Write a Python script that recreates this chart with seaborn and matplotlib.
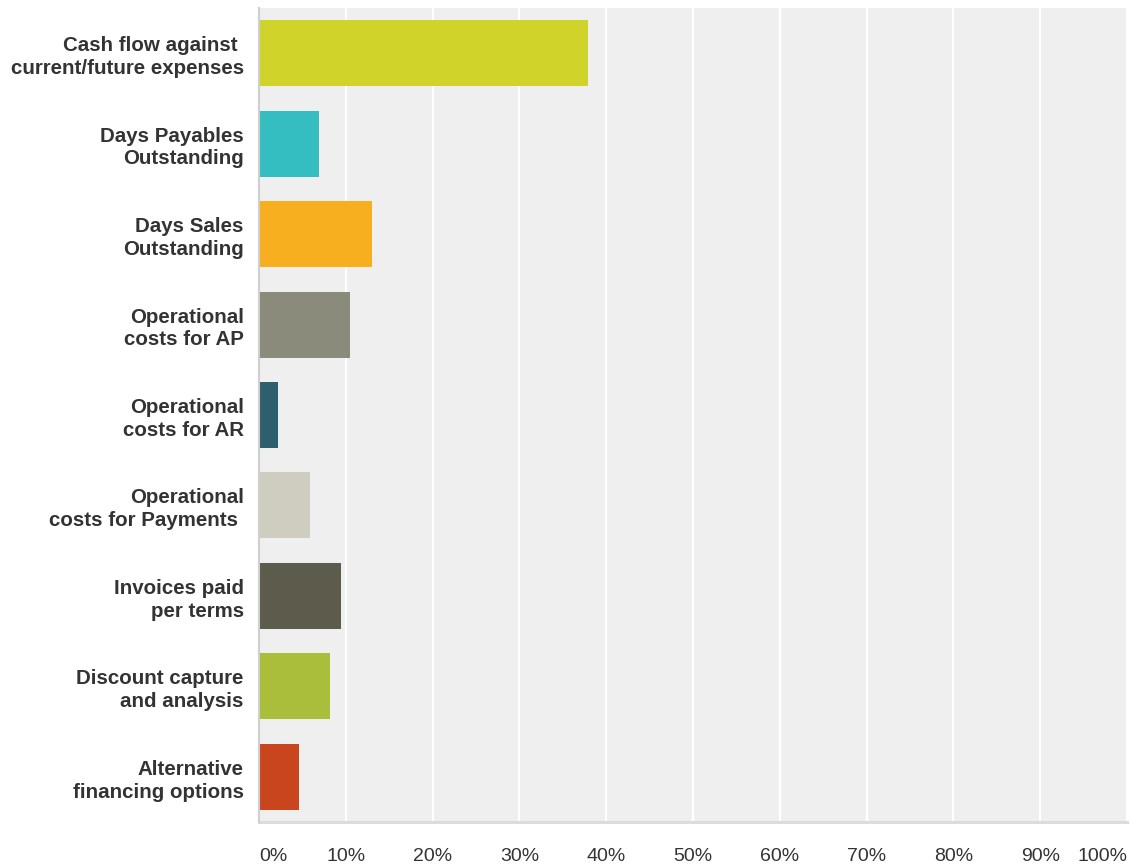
import matplotlib
matplotlib.use("Agg")
import matplotlib.pyplot as plt
import seaborn as sns
import pandas as pd

# Survey responses: share of respondents per metric
categories = [
    "Cash flow against \ncurrent/future expenses",
    "Days Payables\nOutstanding",
    "Days Sales\nOutstanding",
    "Operational\ncosts for AP",
    "Operational\ncosts for AR",
    "Operational\ncosts for Payments ",
    "Invoices paid\nper terms",
    "Discount capture\nand analysis",
    "Alternative\nfinancing options",
]
values = [37.9, 6.9, 13.0, 10.5, 2.2, 5.9, 9.5, 8.2, 4.6]
colors = ["#d0d42a", "#35bec1", "#f7ae1f", "#8a8b7a", "#2d5f6c",
          "#cfcdbf", "#5c5b4c", "#abbe3b", "#c9451e"]
tick_values = [0, 10, 20, 30, 40, 50, 60, 70, 80, 90, 100]
tick_labels = ["0%", "10%", "20%", "30%", "40%", "50%", "60%", "70%", "80%", "90%", "100%"]

df = pd.DataFrame({"category": categories, "value": values})

sns.set_theme(style="white")
plt.rcParams["font.family"] = ["Liberation Sans", "DejaVu Sans"]

fig = plt.figure(figsize=(11.32, 8.67), dpi=100)
ax = fig.add_axes([0.2288, 0.0519, 0.7668, 0.9389])
ax.set_facecolor("#efefef")

sns.barplot(data=df, x="value", y="category", hue="category",
            palette=colors, orient="h", width=0.73, legend=False,
            saturation=1, linewidth=0, ax=ax, zorder=3)

ax.set_xlim(0, 100)
ax.set_ylim(8.5, -0.5)
ax.set_xticks(tick_values)
ax.set_xticklabels(tick_labels, fontsize=14, color="#333333")
for lbl in ax.get_xticklabels()[:1]:
    lbl.set_ha("left")
for lbl in ax.get_xticklabels()[-1:]:
    lbl.set_ha("right")
ax.tick_params(axis="x", length=0, pad=19)
ax.tick_params(axis="y", length=0, pad=11)
for lbl in ax.get_yticklabels():
    lbl.set_fontsize(14.8)
    lbl.set_fontweight("bold")
    lbl.set_color("#333333")
    lbl.set_linespacing(1.25)

ax.set_xlabel("")
ax.set_ylabel("")
ax.grid(axis="x", color="white", linewidth=1.6, zorder=1)
ax.grid(axis="y", visible=False)
ax.set_axisbelow(True)

for side in ["top", "right"]:
    ax.spines[side].set_visible(False)
ax.spines["left"].set_color("#cfcfcf")
ax.spines["left"].set_linewidth(1.5)
ax.spines["left"].set_zorder(4)
ax.spines["bottom"].set_color("#dcdcdc")
ax.spines["bottom"].set_linewidth(2.2)

fig.savefig("out.png", dpi=100)
